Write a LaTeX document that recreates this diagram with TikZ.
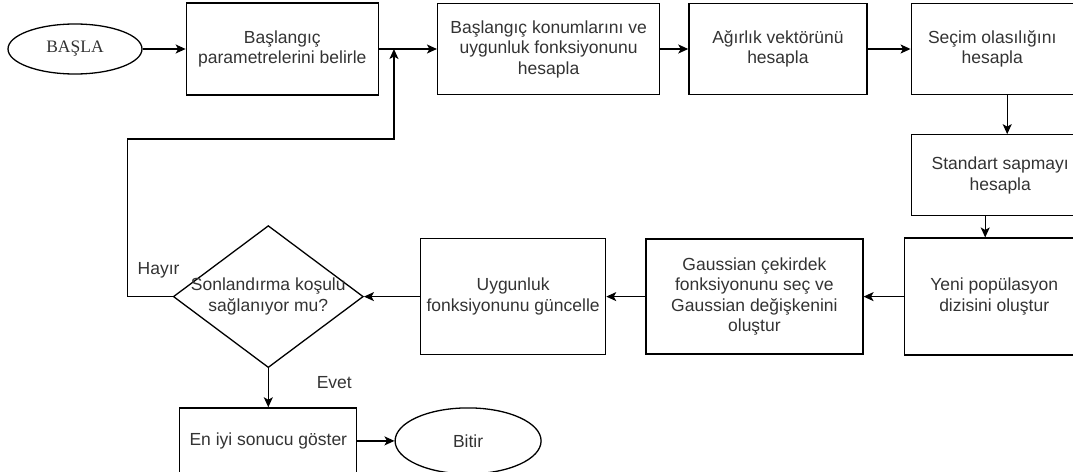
\documentclass[tikz,border=0pt]{standalone}
\usepackage{fontspec}
\setmainfont{Liberation Sans}
\newfontfamily\startfont{Liberation Serif}
\usetikzlibrary{positioning}
\usetikzlibrary{arrows.meta}
\usetikzlibrary{shapes.geometric}

\begin{document}
\begin{tikzpicture}[
    every node/.style={text=black!80, font=\fontsize{17.5}{20.5}\selectfont, align=center},
    box/.style={draw=black, line width=1.3pt, rectangle, inner sep=2pt},
    oval/.style={draw=black, line width=1.3pt, ellipse, inner sep=0pt},
    cond/.style={draw=black, line width=1.3pt, diamond, aspect=1.34, inner sep=-3pt},
    arr/.style={draw=black, line width=1.3pt, -{Stealth[length=10pt,width=9pt,inset=2.5pt]}}
]
    \useasboundingbox (0,0) rectangle (1073pt,-471pt);
    % top row
    \node[oval, minimum width=134pt, minimum height=50pt] (start) at (75pt,-49pt) {\startfont BAŞLA};
    \node[box, right = 43pt of start, minimum width=192pt, minimum height=92pt] (t1) {Başlangıç\\parametrelerini belirle};
    \node[box, right = 58pt of t1, minimum width=222pt, minimum height=91pt] (t2) {Başlangıç konumlarını ve\\uygunluk fonksiyonunu\\hesapla};
    \node[box, right = 28pt of t2, minimum width=178pt, minimum height=91pt] (t3) {Ağırlık vektörünü\\hesapla};
    \node[box, right = 43pt of t3, minimum width=162pt, minimum height=91pt] (t4) {Seçim olasılığını\\hesapla};
    % right column
    \node[box, below = 39pt of t4.south west, anchor=north west, minimum width=178pt, minimum height=81pt] (r1) {Standart sapmayı\\hesapla};
    \node[box, below = 21pt of r1.south west, anchor=north west, xshift=-7pt, minimum width=180pt, minimum height=117pt] (r2) {Yeni popülasyon\\dizisini oluştur};
    % middle row
    \node[box, left = 40pt of r2, minimum width=217pt, minimum height=115pt] (m1) {Gaussian çekirdek\\fonksiyonunu seç ve\\Gaussian değişkenini\\oluştur};
    \node[box, left = 39pt of m1, minimum width=185pt, minimum height=116pt] (m2) {Uygunluk\\fonksiyonunu güncelle};
    \node[cond, left = 56pt of m2, minimum width=190pt, minimum height=142pt] (dec) {Sonlandırma koşulu\\sağlanıyor mu?};
    % bottom row
    \node[box, below = 39pt of dec, minimum width=177pt, minimum height=66pt] (res) {En iyi sonucu göster};
    \node[oval, right = 37pt of res, minimum width=146pt, minimum height=66pt] (stop) {Bitir};
    \coordinate (join) at ([xshift=15pt]t1.east);

    \path[arr] (start.east) -- (t1.west);
    \path[arr] (t1.east) -- (t2.west);
    \path[arr] (t2.east) -- (t3.west);
    \path[arr] (t3.east) -- (t4.west);
    \path[arr] ([xshift=15pt]t4.south) -- ([xshift=15pt]t4.south |- r1.north);
    \path[arr] ([xshift=-15pt]r1.south) -- ([xshift=-15pt]r1.south |- r2.north);
    \path[arr] (r2.west) -- (m1.east);
    \path[arr] (m1.west) -- (m2.east);
    \path[arr] (m2.west) -- (dec.east);
    \path[arr] (dec.south) -- node[xshift=66pt, yshift=5pt] {Evet} (res.north);
    \path[arr] (res.east) -- (stop.west);
    \path[arr] (dec.west) node[xshift=-14pt, yshift=26pt] {Hayır} -- ++(-45pt,0) |- ([yshift=-90pt]join) -- (join);
\end{tikzpicture}
\end{document}
